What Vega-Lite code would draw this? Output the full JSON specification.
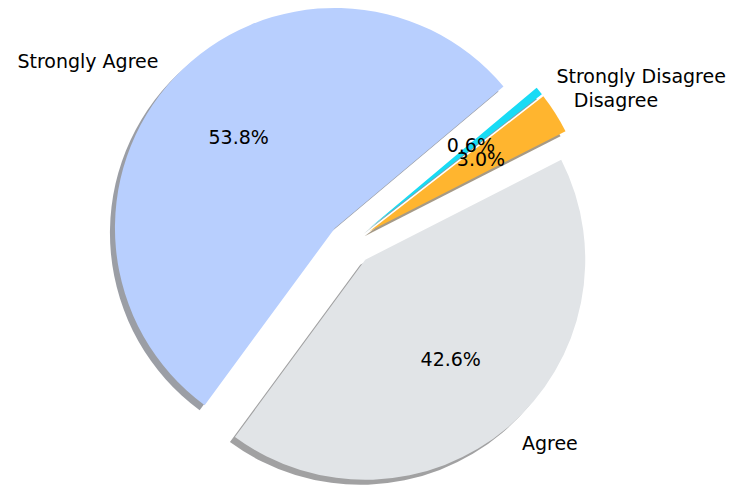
{
  "$schema": "https://vega.github.io/schema/vega-lite/v6.json",
  "width": 734,
  "height": 486,
  "autosize": {"type": "fit", "contains": "padding"},
  "padding": {"left": 0, "right": 24, "top": 0, "bottom": 0},
  "background": "white",
  "view": {"stroke": null},
  "config": {"text": {"font": "DejaVu Sans", "fontSize": 19, "color": "#000000"}},
  "data": {"values": [
    {"label": "Strongly Agree", "share": 0.538},
    {"label": "Agree", "share": 0.426},
    {"label": "Disagree", "share": 0.030},
    {"label": "Strongly Disagree", "share": 0.006}
  ]},
  "transform": [{"stack": "share", "groupby": [], "as": ["v0", "v1"]}],
  "layer": [
    {
      "mark": {
        "type": "arc", "radius": 220, "opacity": 0.5, "strokeWidth": 0,
        "xOffset": {"expr": "22*sin(0.872665-(datum.v0+datum.v1)*PI)-5"},
        "yOffset": {"expr": "-22*cos(0.872665-(datum.v0+datum.v1)*PI)+5"}
      },
      "encoding": {
        "theta": {"field": "v0", "type": "quantitative", "scale": {"domain": [0, 1], "range": [0.872665, -5.41052]}},
        "theta2": {"field": "v1"},
        "color": {"field": "label", "type": "nominal", "legend": null,
          "scale": {"domain": ["Strongly Agree", "Agree", "Disagree", "Strongly Disagree"], "range": ["#373e4c", "#444445", "#4d360e", "#07424a"]}}
      }
    },
    {
      "mark": {
        "type": "arc", "radius": 220, "strokeWidth": 0,
        "xOffset": {"expr": "22*sin(0.872665-(datum.v0+datum.v1)*PI)"},
        "yOffset": {"expr": "-22*cos(0.872665-(datum.v0+datum.v1)*PI)"}
      },
      "encoding": {
        "theta": {"field": "v0", "type": "quantitative", "scale": {"domain": [0, 1], "range": [0.872665, -5.41052]}},
        "theta2": {"field": "v1"},
        "fill": {"field": "label", "type": "nominal", "legend": null,
          "scale": {"domain": ["Strongly Agree", "Agree", "Disagree", "Strongly Disagree"], "range": ["#b8cffe", "#e1e4e7", "#ffb52f", "#18dbf5"]}}
      }
    },
    {
      "mark": {
        "type": "text", "align": "center", "baseline": "middle",
        "xOffset": {"expr": "154*sin(0.872665-(datum.v0+datum.v1)*PI)"},
        "yOffset": {"expr": "-154*cos(0.872665-(datum.v0+datum.v1)*PI)"}
      },
      "encoding": {
        "text": {"field": "share", "type": "quantitative", "format": ".1%"}
      }
    },
    {
      "mark": {
        "type": "text", "baseline": "middle",
        "align": {"expr": "sin(0.872665-(datum.v0+datum.v1)*PI) < 0 ? 'right' : 'left'"},
        "xOffset": {"expr": "264*sin(0.872665-(datum.v0+datum.v1)*PI)"},
        "yOffset": {"expr": "-264*cos(0.872665-(datum.v0+datum.v1)*PI)"}
      },
      "encoding": {
        "text": {"field": "label", "type": "nominal"}
      }
    }
  ],
  "resolve": {"scale": {"color": "independent", "fill": "independent"}}
}
